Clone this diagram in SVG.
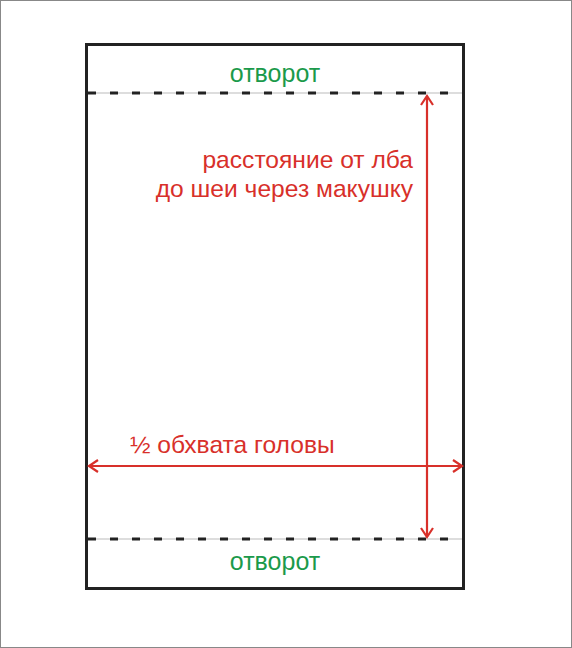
<svg xmlns="http://www.w3.org/2000/svg" width="572" height="648" viewBox="0 0 572 648">
<style>
.fold{stroke:#222;stroke-width:3;stroke-dasharray:8 14;fill:none}
.thin{stroke:#bbb;stroke-width:1;fill:none}
.red{stroke:#d8302a;stroke-width:2.2;fill:none}
.gt{font-family:"Liberation Sans",Arial,sans-serif;font-size:25px;fill:#1b9a4b;text-anchor:middle}
.rt{font-family:"Liberation Sans",Arial,sans-serif;font-size:24.6px;fill:#d8302a}
</style>
<defs>
<marker id="ah" markerWidth="14" markerHeight="14" refX="11" refY="7" orient="auto-start-reverse" markerUnits="userSpaceOnUse">
<path d="M2,1 L11,7 L2,13" fill="none" stroke="#d8302a" stroke-width="2.2"/>
</marker>
</defs>
<rect x="0.5" y="0.5" width="571" height="647" fill="#fff" stroke="#888" stroke-width="1"/>
<g id="sheet">
<rect x="86.5" y="44.5" width="377" height="544" fill="#fff" stroke="#222" stroke-width="3"/>
</g>
<g id="fold-top">
<line class="thin" x1="88" y1="93" x2="462" y2="93"/>
<line class="fold" x1="88" y1="93" x2="462" y2="93"/>
<text class="gt" x="275" y="82">отворот</text>
</g>
<g id="fold-bottom">
<line class="thin" x1="88" y1="539" x2="462" y2="539"/>
<line class="fold" x1="88" y1="539" x2="462" y2="539"/>
<text class="gt" x="275" y="570">отворот</text>
</g>
<g id="connectors">
<line class="red" x1="427" y1="96" x2="427" y2="537" marker-start="url(#ah)" marker-end="url(#ah)"/>
<line class="red" x1="89" y1="466" x2="462" y2="466" marker-start="url(#ah)" marker-end="url(#ah)"/>
</g>
<g id="label-length">
<text class="rt" x="413" y="168" text-anchor="end">расстояние от лба</text>
<text class="rt" x="413" y="197" text-anchor="end">до шеи через макушку</text>
</g>
<g id="label-width">
<text class="rt" x="130" y="453">½ обхвата головы</text>
</g>
</svg>
